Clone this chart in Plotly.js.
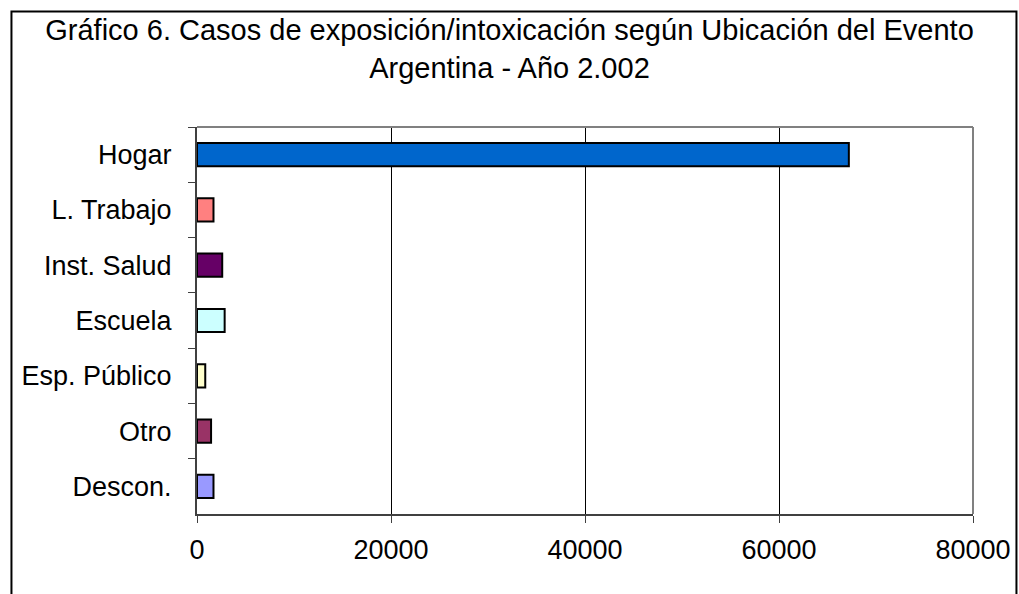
<!DOCTYPE html>
<html>
<head>
<meta charset="utf-8">
<script src="https://cdn.plot.ly/plotly-3.0.1.min.js"></script>
<style>
html,body{margin:0;padding:0;background:#fff;}
#chart{width:1019px;height:594px;}
</style>
</head>
<body>
<div id="chart"></div>
<script>
const categories = ["Hogar", "L. Trabajo", "Inst. Salud", "Escuela", "Esp. Público", "Otro", "Descon."];
const casos = [67200, 1700, 2600, 2850, 850, 1450, 1700];
const barColors = ["#0066CC", "#FF8080", "#660066", "#CCFFFF", "#FFFFCC", "#993366", "#9999FF"];
const xTicks = [0, 20000, 40000, 60000, 80000];

const trace = {
  type: "bar",
  orientation: "h",
  y: categories,
  x: casos,
  marker: {color: barColors, line: {color: "#000000", width: 2}},
  hoverinfo: "x+y"
};

const layout = {
  width: 1019,
  height: 594,
  margin: {l: 197, r: 46, t: 127, b: 80},
  paper_bgcolor: "#ffffff",
  plot_bgcolor: "#ffffff",
  font: {family: "Liberation Sans, Arial, sans-serif", color: "#000"},
  showlegend: false,
  bargap: 0.58,
  title: {
    text: "Gráfico 6. Casos de exposición/intoxicación según Ubicación del Evento<br>Argentina - Año 2.002",
    font: {size: 29, color: "#000", family: "Liberation Sans, Arial, sans-serif"},
    x: 0.5, xanchor: "center",
    y: 0.932, yanchor: "top", yref: "container"
  },
  xaxis: {
    range: [0, 80000],
    tickvals: xTicks,
    ticktext: xTicks.map(String),
    showgrid: true,
    gridcolor: "#000000",
    gridwidth: 1,
    zeroline: false,
    showline: true,
    linecolor: "#404040",
    linewidth: 2,
    ticks: "outside",
    ticklen: 7,
    tickcolor: "#404040",
    ticklabelstandoff: 4,
    tickfont: {size: 27, color: "#000"},
    fixedrange: true
  },
  yaxis: {
    type: "category",
    autorange: "reversed",
    showgrid: false,
    zeroline: false,
    showline: true,
    linecolor: "#404040",
    linewidth: 2,
    ticks: "outside",
    tickson: "boundaries",
    ticklen: 7,
    tickcolor: "#404040",
    ticklabelstandoff: 18,
    tickfont: {size: 27, color: "#000"},
    fixedrange: true
  },
  shapes: [
    {type: "line", xref: "paper", yref: "paper", x0: 0, x1: 1, y0: 1, y1: 1, line: {color: "#808080", width: 2}},
    {type: "line", xref: "paper", yref: "paper", x0: 1, x1: 1, y0: 0, y1: 1, line: {color: "#808080", width: 2}},
    {type: "rect", xref: "paper", yref: "paper", x0: -0.2391, x1: 1.0560, y0: -0.25, y1: 1.2985, line: {color: "#000000", width: 2}, fillcolor: "rgba(0,0,0,0)", layer: "below"}
  ]
};

Plotly.newPlot("chart", [trace], layout, {displayModeBar: false, staticPlot: true});
</script>
</body>
</html>
